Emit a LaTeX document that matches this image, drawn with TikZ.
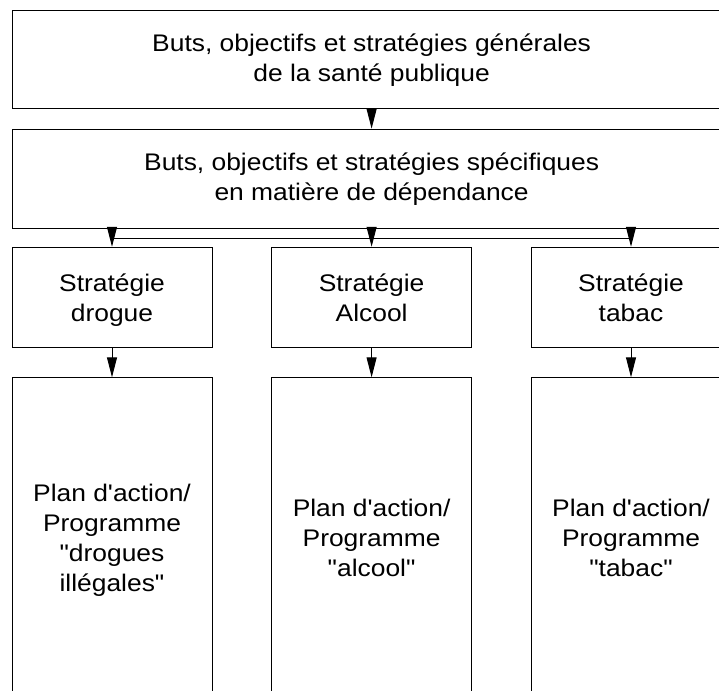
\documentclass[tikz,border=0pt]{standalone}
\usepackage{fontspec}
\setmainfont{Liberation Sans}[FakeStretch=1.1,Ligatures=TeXOff]
\usetikzlibrary{arrows.meta}

\begin{document}
\begin{tikzpicture}[x=1pt, y=-1pt,
  box/.style={draw, line width=1pt, inner sep=0pt, align=center, font=\fontsize{24}{30}\selectfont,
    execute at begin node=\rule{0pt}{#1}, execute at end node=\rule[-5pt]{0pt}{5pt}},
  box/.default=24pt,
  wide/.style={box, minimum width=719pt, minimum height=98pt},
  strat/.style={box=54pt, minimum width=200pt, minimum height=100pt},
  plan/.style={box, minimum width=200pt, minimum height=325pt},
  flow/.style={line width=1pt, -{Triangle[length=20pt, width=10pt]}}]
\useasboundingbox (0,0) rectangle (719,690);
\clip (0,0) rectangle (719,690);
\node[wide] (goal0) at (371.6,59.7){Buts, objectifs et stratégies générales\\de la santé publique};
\node[wide, minimum height=99pt] (goal1) at (371.6,178.7){Buts, objectifs et stratégies spécifiques\\en matière de dépendance};
\draw[flow](goal0) -- (goal1);
\node[strat] (strat0) at (112,297.3){Stratégie\\drogue};
\node[strat] (strat1) at (371.6,297.3){Stratégie\\Alcool};
\node[strat] (strat2) at (631,297.3){Stratégie\\tabac};
\coordinate (split) at (371.6,238.3);
\draw[line width=1pt](strat0.north |- split) -- (strat2.north |- split);
\draw[flow](goal1.south -| strat0.north) -- (strat0.north);
\draw[flow](goal1.south) -- (strat1.north);
\draw[flow](goal1.south -| strat2.north) -- (strat2.north);
\node[plan] (plan0) at (112,540.3){Plan d'action/\\Programme\\"drogues\\illégales"};
\node[plan] (plan1) at (371.6,540.3){Plan d'action/\\Programme\\"alcool"};
\node[plan] (plan2) at (631,540.3){Plan d'action/\\Programme\\"tabac"};
\draw[flow](strat0) -- (plan0);
\draw[flow](strat1) -- (plan1);
\draw[flow](strat2) -- (plan2);

\end{tikzpicture}
\end{document}
